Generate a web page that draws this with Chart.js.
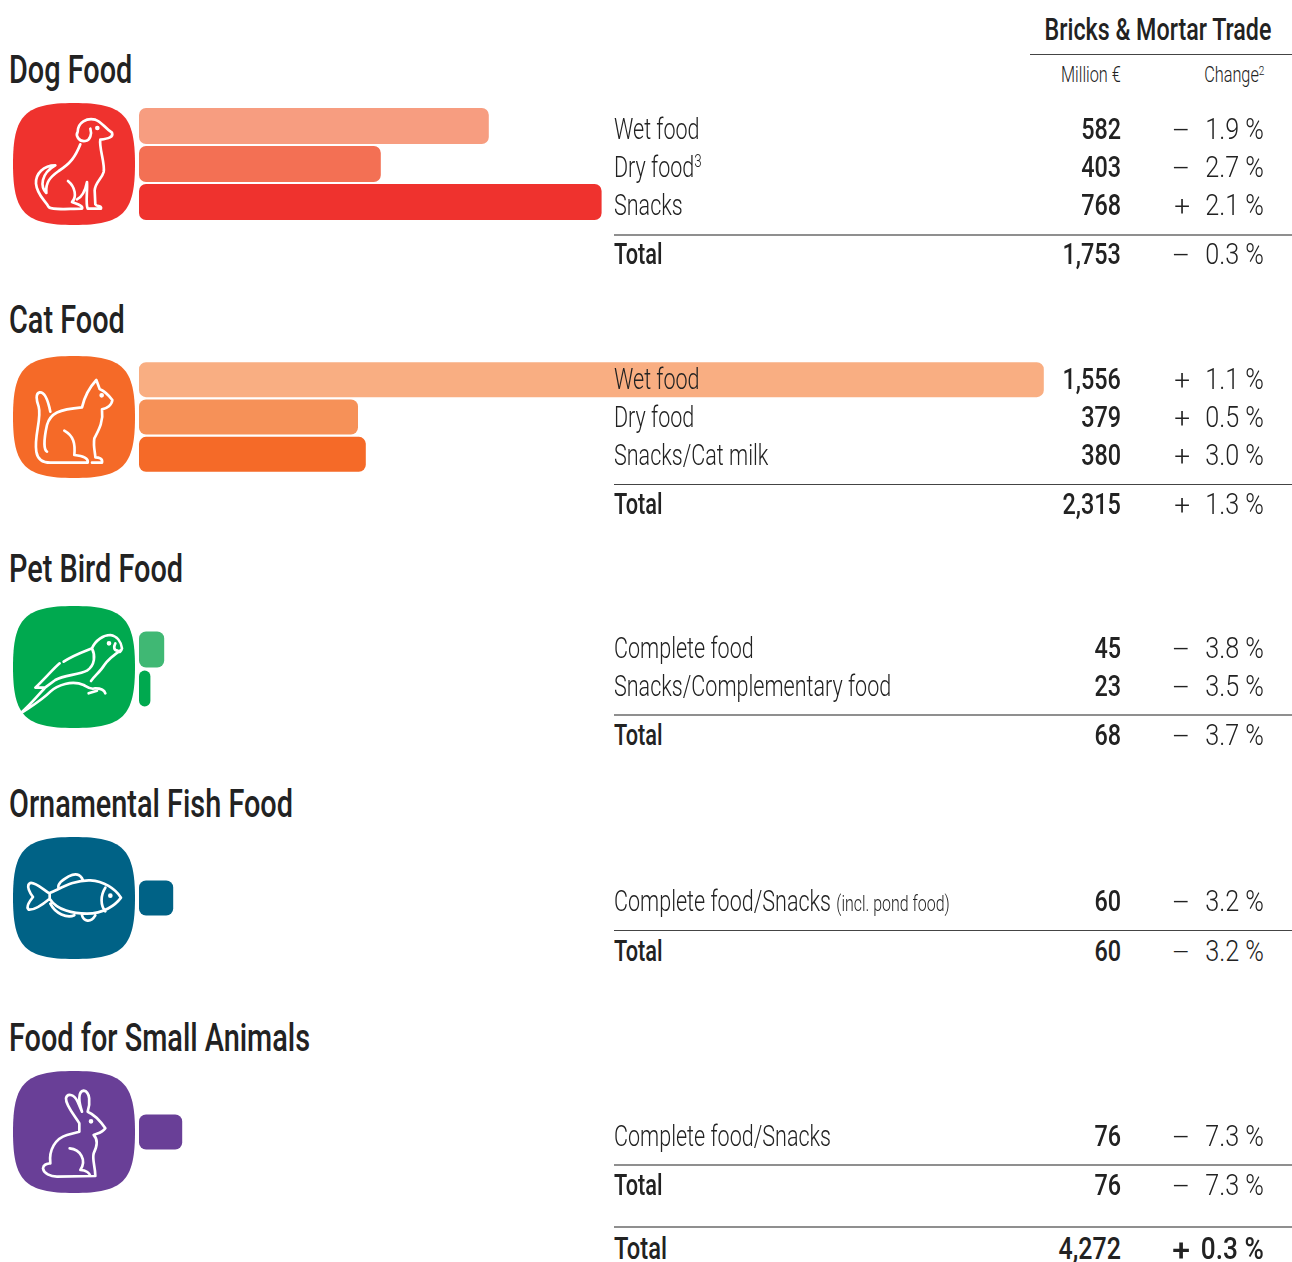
<!DOCTYPE html>
<html>
<head>
<meta charset="utf-8">
<script src="https://cdn.jsdelivr.net/npm/chart.js@4"></script>
<style>
html, body { margin: 0; padding: 0; background: #fff; }
#page { position: relative; width: 1292px; height: 1262px; overflow: hidden; font-family: Roboto, sans-serif; color: #222; }
#page canvas { position: absolute; left: 139px; }
#page svg { position: absolute; left: 12.5px; width: 122px; height: 122px; }
.t { position: absolute; white-space: nowrap; line-height: 40px; height: 40px; }
.l { transform-origin: left center; }
.r { transform-origin: right center; }
.rule { position: absolute; }
sup { font-size: 62%; line-height: 0; vertical-align: 0.55em; }
small { font-size: 74%; }
</style>
</head>
<body>
<div id="page"></div>
<script>
// Bar lengths, on a scale of 0.6 px per million
var dogLabels = ['Wet food', 'Dry food', 'Snacks'];
var dogBars = [583, 403, 771];
var dogColors = ['#f79d80', '#f37054', '#ef322e'];
var catLabels = ['Wet food', 'Dry food', 'Snacks/Cat milk'];
var catBars = [1508, 365, 378];
var catColors = ['#f9ae82', '#f69158', '#f56a28'];
var birdLabels = ['Complete food', 'Snacks/Complementary food'];
var birdBars = [42, 19];
var birdColors = ['#40b874', '#00a94f'];
var fishLabels = ['Complete food/Snacks'];
var fishBars = [57];
var fishColors = ['#006286'];
var smallLabels = ['Complete food/Snacks'];
var smallBars = [72];
var smallColors = ['#693f97'];

// Table figures
var dogRows = [['Wet food', '582', '–', '1.9 %'], ['Dry food<sup>3</sup>', '403', '–', '2.7 %'], ['Snacks', '768', '+', '2.1 %']];
var dogTotal = ['1,753', '–', '0.3 %'];
var catRows = [['Wet food', '1,556', '+', '1.1 %'], ['Dry food', '379', '+', '0.5 %'], ['Snacks/Cat milk', '380', '+', '3.0 %']];
var catTotal = ['2,315', '+', '1.3 %'];
var birdRows = [['Complete food', '45', '–', '3.8 %'], ['Snacks/Complementary food', '23', '–', '3.5 %']];
var birdTotal = ['68', '–', '3.7 %'];
var fishRows = [['Complete food/Snacks <small>(incl. pond food)</small>', '60', '–', '3.2 %']];
var fishTotal = ['60', '–', '3.2 %'];
var smallRows = [['Complete food/Snacks', '76', '–', '7.3 %']];
var smallTotal = ['76', '–', '7.3 %'];
var grandTotal = ['4,272', '+', '0.3 %'];

var page = document.getElementById('page');

function text(html, x, cy, align, size, weight, scale) {
    var el = document.createElement('div');
    el.className = 't ' + align;
    el.innerHTML = html;
    el.style.top = (cy - 20) + 'px';
    el.style.fontSize = size + 'px';
    el.style.fontWeight = weight;
    el.style.transform = 'scaleX(' + scale + ')';
    if (align == 'l') el.style.left = x + 'px';
    else el.style.right = (1292 - x) + 'px';
    page.appendChild(el);
}

// thick rules come out as a soft grey two pixel line in the original
function rule(x, y, thick) {
    var el = document.createElement('div');
    el.className = 'rule';
    el.style.left = x + 'px';
    el.style.top = y + 'px';
    el.style.width = (1292 - x) + 'px';
    el.style.height = thick ? '2px' : '1px';
    el.style.background = thick ? '#8f8f8f' : '#444';
    page.appendChild(el);
}

function row(r, cy) {
    text(r[0], 614, cy, 'l', 29, 300, 0.743);
    text(r[1], 1121, cy, 'r', 30, 500, 0.78);
    text(r[2], 1190, cy + 2, 'r', 28, 300, 1);
    text(r[3], 1264, cy, 'r', 30, 300, 0.84);
}

function totalRow(r, cy, ruleY, thick) {
    rule(614, ruleY, thick);
    text('Total', 614, cy, 'l', 30, 500, 0.725);
    text(r[0], 1121, cy, 'r', 30, 500, 0.78);
    text(r[1], 1190, cy + 2, 'r', 28, 300, 1);
    text(r[2], 1264, cy, 'r', 30, 300, 0.84);
}

// One small horizontal bar chart per group
function bars(labels, values, colors, top, pitch, thickness) {
    var canvas = document.createElement('canvas');
    canvas.width = 960;
    canvas.height = pitch * labels.length;
    canvas.style.top = top + 'px';
    page.appendChild(canvas);
    return new Chart(canvas.getContext('2d'), {
        type: 'bar',
        data: {
            labels: labels,
            datasets: [{
                data: values,
                backgroundColor: colors,
                borderWidth: 0,
                borderSkipped: false,
                borderRadius: 7,
                inflateAmount: 0,
                barThickness: thickness
            }]
        },
        options: {
            indexAxis: 'y',
            responsive: false,
            animation: false,
            layout: { padding: 0 },
            plugins: { legend: { display: false }, tooltip: { enabled: false } },
            scales: {
                x: { display: false, min: 0, max: 1600 },
                y: { display: false }
            }
        }
    });
}

function icon(color, top, offsetY, paths, eye) {
    var shape = 'M183 0C330 0 366 36 366 183C366 330 330 366 183 366C36 366 0 330 0 183C0 36 36 0 183 0Z';
    var svg = '<svg style="top:' + top + 'px" viewBox="0 0 366 366"><path d="' + shape + '" fill="' + color + '"/>' +
        '<g transform="translate(-38,' + (-offsetY) + ')" fill="none" stroke="#fff" stroke-width="8" stroke-linecap="round" stroke-linejoin="round">' +
        '<path d="' + paths + '"/><circle cx="' + eye[0] + '" cy="' + eye[1] + '" r="3" fill="#fff"/></g></svg>';
    page.insertAdjacentHTML('beforeend', svg);
}

bars(dogLabels, dogBars, dogColors, 107, 38, 36);
bars(catLabels, catBars, catColors, 361, 37.5, 35);
bars(birdLabels, birdBars, birdColors, 630, 39, 36);
bars(fishLabels, fishBars, fishColors, 879, 38, 35);
bars(smallLabels, smallBars, smallColors, 1113, 38, 35);

icon('#ef322e', 103, 308,
    'M232 395C232 365 260 352 285 358C305 365 310 380 335 397C340 410 325 415 300 418C295 440 315 490 310 515C305 535 285 545 283 570L285 612C290 620 305 615 302 625L262 625C255 610 262 570 260 545' +
    'M232 395C225 405 235 425 255 422C270 420 275 400 270 385' +
    'M240 432C225 470 210 490 175 512C150 530 135 545 138 578C120 560 120 520 165 495C130 495 105 520 107 550C110 585 135 600 145 620C155 630 200 625 245 625C250 615 225 610 215 605C230 590 225 560 203 542' +
    'M260 545C255 570 245 590 230 597', [291, 383]);
icon('#f56a28', 356, 18,
    'M150 185C145 160 135 125 118 127C105 130 108 150 115 170C125 205 100 260 108 305C112 330 130 338 150 338L262 338C265 325 250 318 222 315C225 280 220 258 192 242' +
    'M140 305C130 300 130 270 140 225C150 190 175 178 245 172C250 150 265 115 288 90L298 117C315 125 325 135 336 150C335 165 320 175 305 178C310 215 295 240 282 265C278 290 285 310 285 322C295 322 308 325 305 338L275 338', [304, 136]);
icon('#00a94f', 606, 18,
    'M190 185C220 165 250 155 275 145C285 120 310 105 330 105C350 108 362 125 365 145C362 155 358 160 352 152M345 130C340 140 340 150 350 152' +
    'M362 150C340 165 325 175 312 195C300 215 285 225 272 243' +
    'M275 145C285 165 285 195 260 212C235 225 190 225 165 240L135 262' +
    'M178 190C160 205 130 240 105 263L135 262C110 290 85 320 58 342C90 320 120 305 150 275C170 255 215 240 250 255C262 262 270 270 285 265C300 265 312 270 315 280M265 280L290 272', [326, 130]);
icon('#006286', 837, 20,
    'M148 188C180 175 220 148 270 150C310 152 345 175 362 202C345 225 310 250 260 250C220 250 170 240 148 205L148 188' +
    'M148 190C125 175 105 155 90 158C75 165 90 190 98 200C90 210 75 230 85 238C105 240 130 220 148 205' +
    'M175 175C170 160 185 150 205 138C225 128 240 130 248 150M150 220C165 250 200 265 222 255M245 255C250 272 270 280 285 255M315 172C300 195 300 225 315 243', [330, 196]);
icon('#693f97', 1071, 33,
    'M237 190C225 170 195 135 197 115C200 100 220 100 232 125L245 155C235 125 232 95 250 92C270 95 270 130 262 155' +
    'C285 165 305 190 315 205C305 220 290 220 280 225C295 240 290 260 280 280C275 300 285 320 285 348L170 350C150 350 130 340 128 325C130 312 140 312 150 310C145 270 165 235 200 225L237 215L237 190' +
    'M208 265C240 268 260 300 240 330C258 330 268 340 270 348', [272, 184]);

// Header
text('Bricks &amp; Mortar Trade', 1271, 30, 'r', 31, 500, 0.75);
rule(1030, 54, false);
text('Million €', 1121, 75, 'r', 22, 300, 0.74);
text('Change<sup>2</sup>', 1264, 75, 'r', 22, 300, 0.74);

// Group headings
text('Dog Food', 9, 70, 'l', 39, 500, 0.74);
text('Cat Food', 9, 320, 'l', 39, 500, 0.74);
text('Pet Bird Food', 9, 569, 'l', 39, 500, 0.74);
text('Ornamental Fish Food', 9, 804, 'l', 39, 500, 0.74);
text('Food for Small Animals', 9, 1038, 'l', 39, 500, 0.74);

dogRows.forEach(function (r, i) { row(r, 129 + 38 * i); });
totalRow(dogTotal, 254, 234, true);
catRows.forEach(function (r, i) { row(r, 379 + 38 * i); });
totalRow(catTotal, 504, 484, false);
birdRows.forEach(function (r, i) { row(r, 648 + 38 * i); });
totalRow(birdTotal, 735, 714, true);
fishRows.forEach(function (r, i) { row(r, 901 + 38 * i); });
totalRow(fishTotal, 951, 930, false);
smallRows.forEach(function (r, i) { row(r, 1136 + 38 * i); });
totalRow(smallTotal, 1185, 1164, true);

// Grand total, set a little heavier
rule(614, 1226, true);
text('Total', 614, 1248, 'l', 32, 500, 0.74);
text(grandTotal[0], 1121, 1248, 'r', 32, 500, 0.78);
text(grandTotal[1], 1190, 1250, 'r', 32, 500, 1);
text(grandTotal[2], 1264, 1248, 'r', 32, 500, 0.82);
</script>
</body>
</html>
